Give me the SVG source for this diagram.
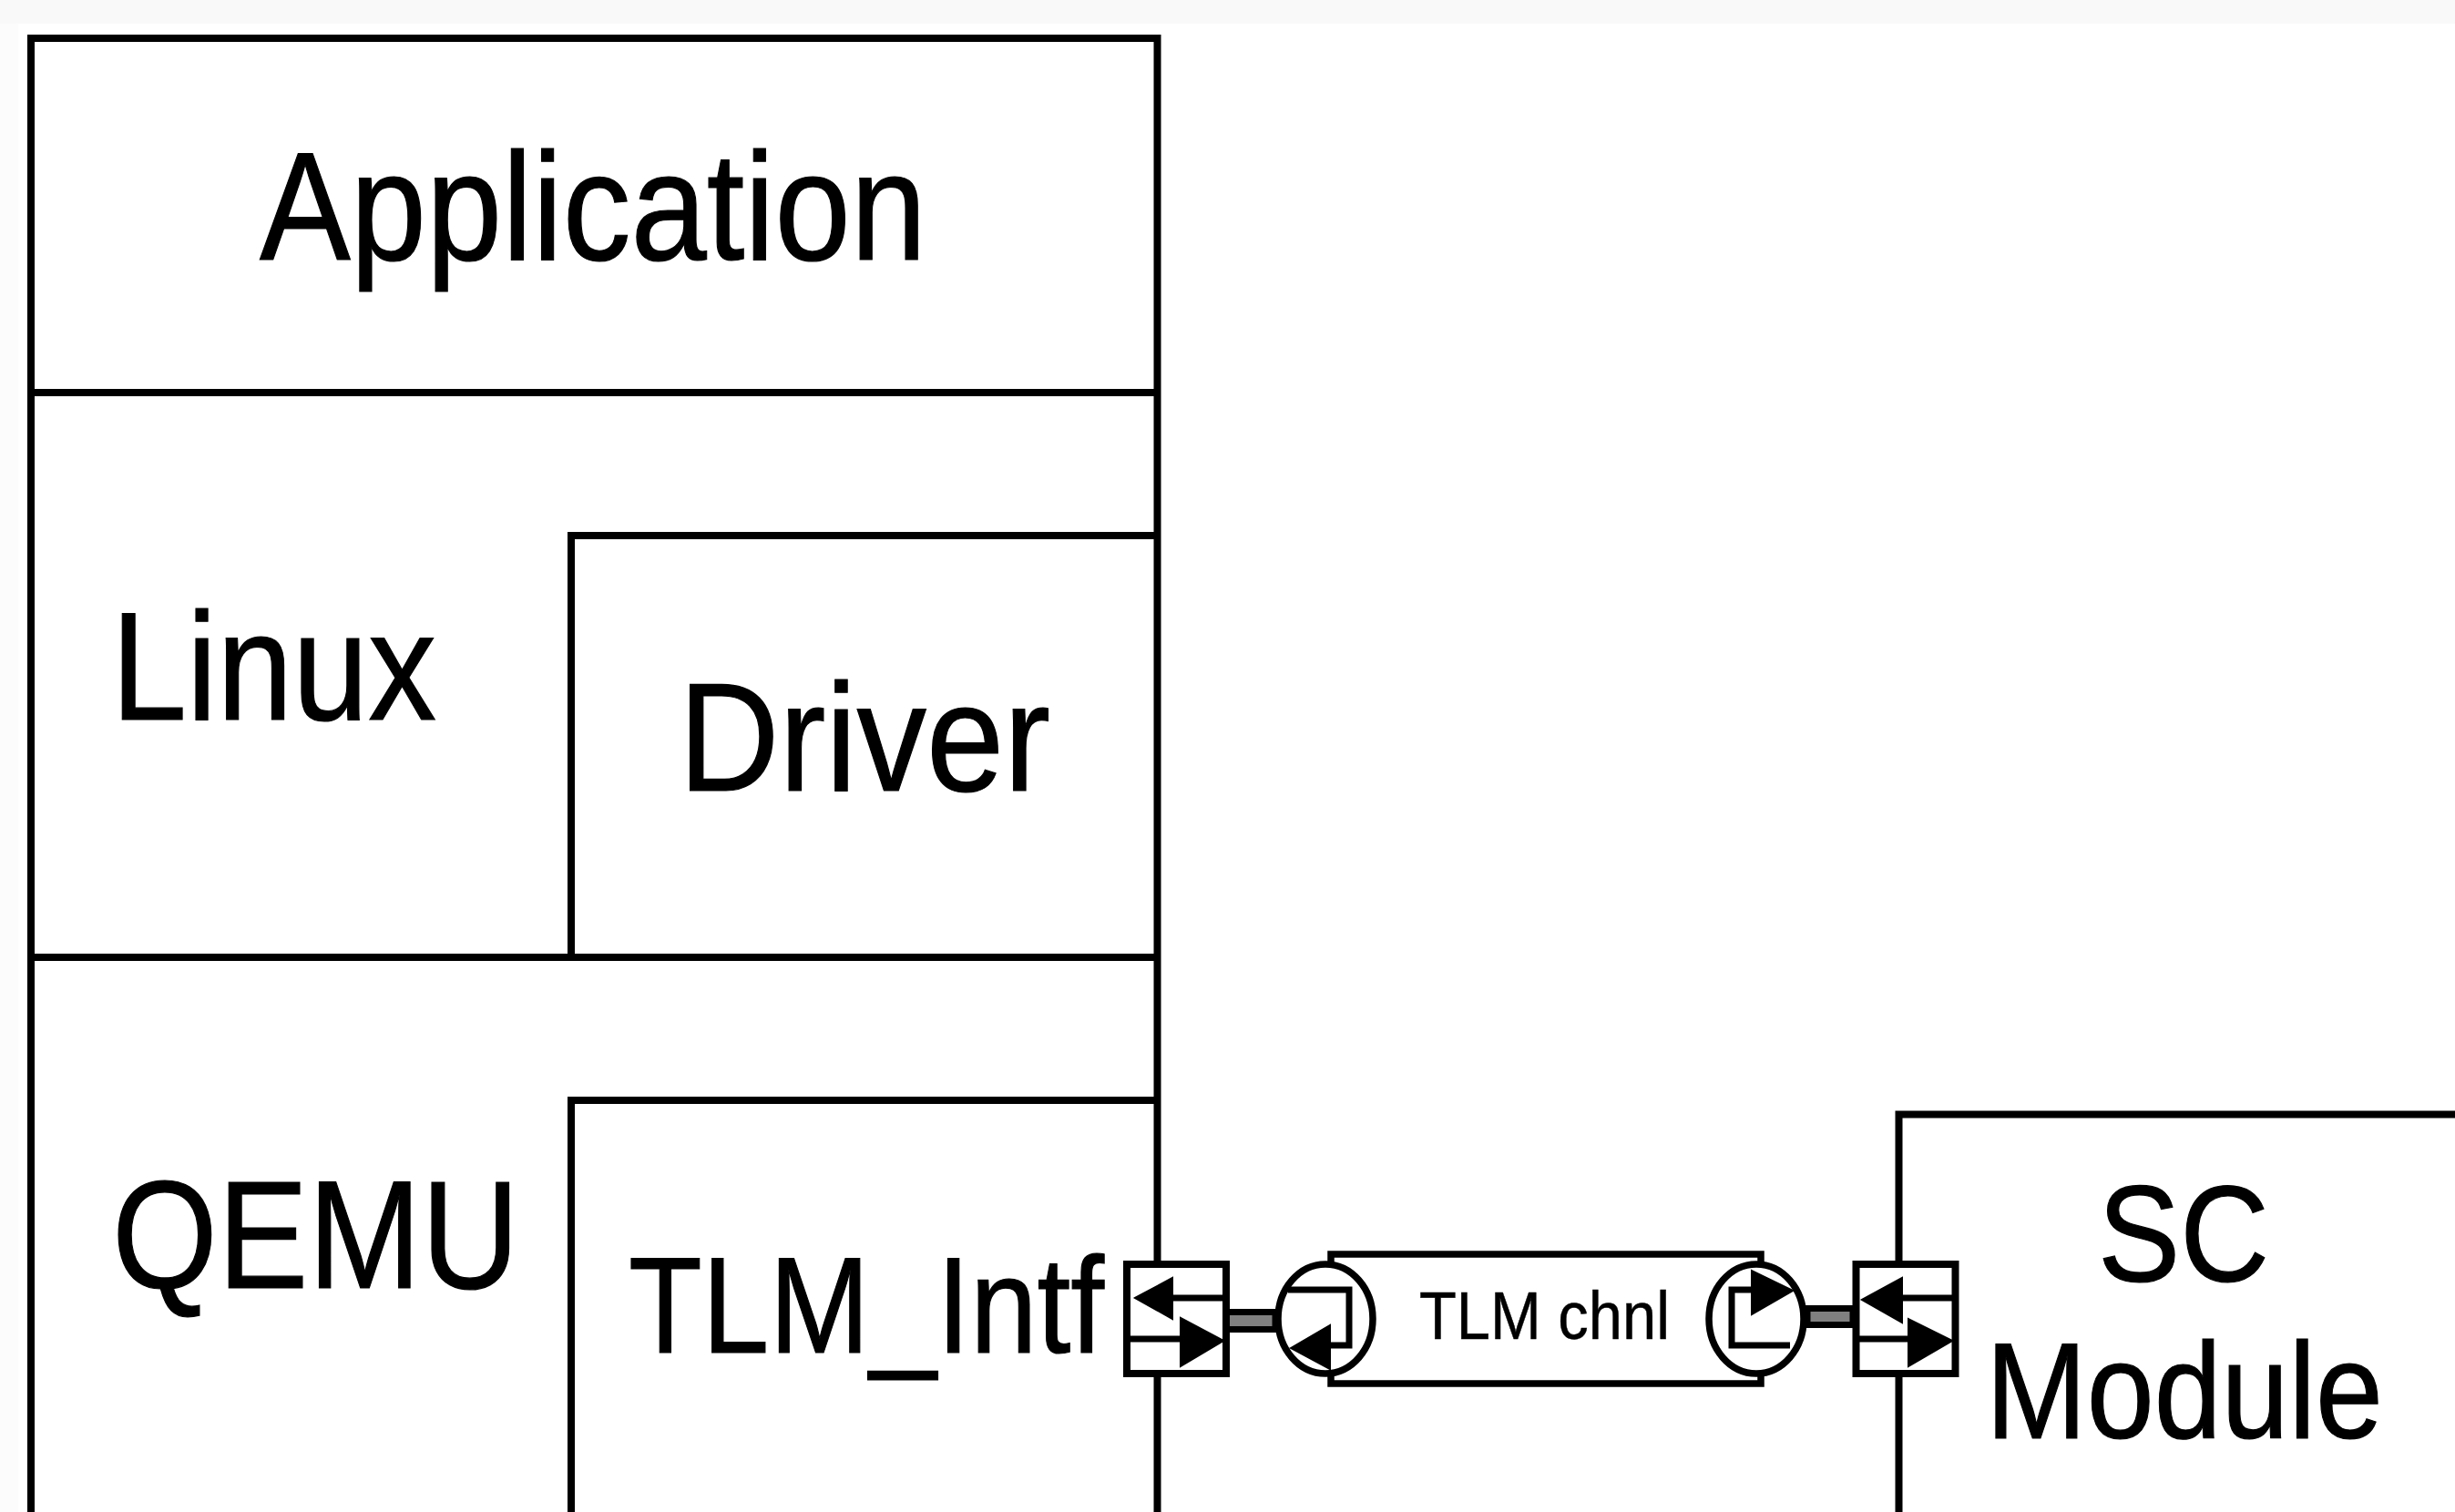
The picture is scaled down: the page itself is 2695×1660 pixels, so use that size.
<svg xmlns="http://www.w3.org/2000/svg" width="2695" height="1660" viewBox="0 0 2695 1660">
<defs>
<style>
.ln{fill:none;stroke:#000;stroke-width:8}
.box{fill:#fff;stroke:#000;stroke-width:7.500}
.thin{fill:none;stroke:#000;stroke-width:7}
.port{fill:#fff;stroke:#000;stroke-width:8}
.head{fill:#000;stroke:#000;stroke-width:2}
.link{fill:#808080;stroke:#000;stroke-width:7}
.lb{font-family:"Liberation Sans",Arial,sans-serif;fill:#000;stroke:#000;stroke-width:1.200}
.sm{stroke-width:.5}
</style>
</defs>
<rect id="page" width="2695" height="1660" fill="#fff"/>
<rect width="2695" height="26" fill="#f9f9f9"/>
<rect y="26" width="20" height="1634" fill="#fcfcfc"/>
<g id="stack">
<path class="ln" d="M34 1660V42H1270.500V1660"/>
</g>
<g id="application">
<path class="ln" d="M34 431H1270.500"/>
<text class="lb" x="285" y="285" font-size="168" textLength="732" lengthAdjust="spacingAndGlyphs">Application</text>
</g>
<g id="linux">
<path class="ln" d="M34 1051H1270.500"/>
<text class="lb" x="122" y="790" font-size="168" textLength="357" lengthAdjust="spacingAndGlyphs">Linux</text>
</g>
<g id="driver">
<path class="ln" d="M627 1051V588H1270.500"/>
<text class="lb" x="745" y="868" font-size="168" textLength="408" lengthAdjust="spacingAndGlyphs">Driver</text>
</g>
<g id="qemu">
<text class="lb" x="123" y="1414" font-size="168" textLength="447" lengthAdjust="spacingAndGlyphs">QEMU</text>
</g>
<g id="tlm-intf">
<path class="ln" d="M627 1660V1208H1270.500"/>
<text class="lb" x="690" y="1485" font-size="151" textLength="522" lengthAdjust="spacingAndGlyphs">TLM_Intf</text>
</g>
<g id="sc-module">
<path class="ln" d="M2084.500 1660V1223.500H2695"/>
<text class="lb" x="2303" y="1407" font-size="150" textLength="188" lengthAdjust="spacingAndGlyphs">SC</text>
<text class="lb" x="2180" y="1579" font-size="150" textLength="436" lengthAdjust="spacingAndGlyphs">Module</text>
</g>
<g id="connectors">
<rect class="link" x="1346" y="1440.500" width="54" height="19"/>
<rect class="link" x="1984" y="1436.500" width="50" height="18"/>
</g>
<g id="tlm-channel">
<rect class="box" x="1461" y="1377" width="472" height="142"/>
<ellipse class="box" cx="1455" cy="1448" rx="52" ry="60"/>
<ellipse class="box" cx="1928" cy="1448" rx="52" ry="60"/>
<path class="thin" d="M1414 1416H1481V1477H1450"/>
<path class="head" d="M1417 1480L1460 1455V1503Z"/>
<path class="thin" d="M1965 1477H1901V1416H1930"/>
<path class="head" d="M1968 1417L1923 1395V1443Z"/>
<text class="lb sm" x="1558" y="1470" font-size="74" textLength="275" lengthAdjust="spacingAndGlyphs">TLM chnl</text>
</g>
<g id="port-left">
<rect class="port" x="1237" y="1388" width="109" height="120"/>
<path class="thin" d="M1280 1425H1343M1240 1470H1300"/>
<path class="head" d="M1246 1425L1287 1403V1448Z"/>
<path class="head" d="M1343 1472L1296 1447V1500Z"/>
</g>
<g id="port-right">
<rect class="port" x="2037.500" y="1388" width="109" height="120"/>
<path class="thin" d="M2080 1425H2144M2040 1470H2100"/>
<path class="head" d="M2044 1427L2088 1403V1452Z"/>
<path class="head" d="M2143 1472L2095 1448V1500Z"/>
</g>
</svg>
